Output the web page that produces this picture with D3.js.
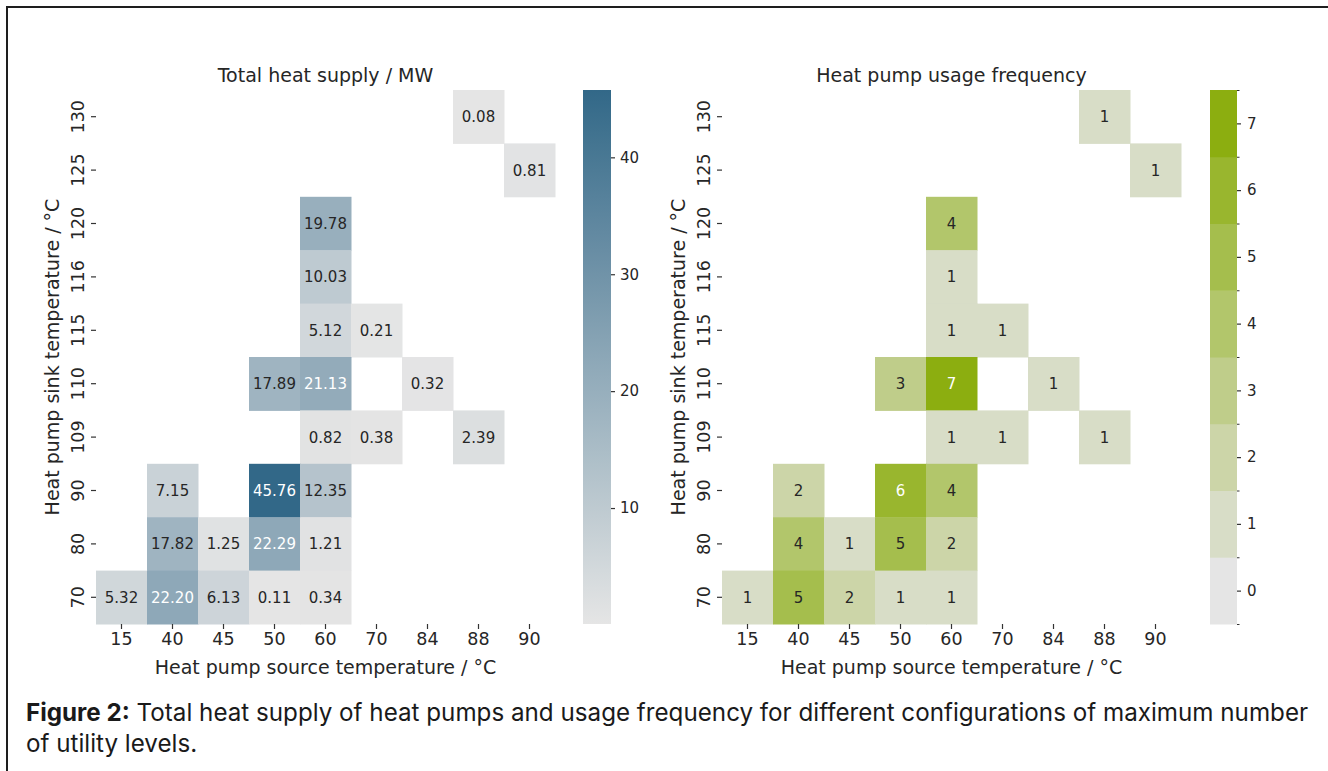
<!DOCTYPE html>
<html><head><meta charset="utf-8">
<script src="https://cdn.jsdelivr.net/npm/d3@7"></script>
<style>
body{margin:0;background:#fff}
svg{display:block}
</style></head><body>
<svg id="fig" width="1328" height="771"></svg>
<script>
// Axis categories
const sourceTemps = [15, 40, 45, 50, 60, 70, 84, 88, 90];
const sinkTemps = [130, 125, 120, 116, 115, 110, 109, 90, 80, 70];

// Total heat supply in MW; rows follow sinkTemps, columns follow sourceTemps (null = unused)
const heatSupply = [
  [null, null, null, null, null, null, null, 0.08, null],
  [null, null, null, null, null, null, null, null, 0.81],
  [null, null, null, null, 19.78, null, null, null, null],
  [null, null, null, null, 10.03, null, null, null, null],
  [null, null, null, null, 5.12, 0.21, null, null, null],
  [null, null, null, 17.89, 21.13, null, 0.32, null, null],
  [null, null, null, null, 0.82, 0.38, null, 2.39, null],
  [null, 7.15, null, 45.76, 12.35, null, null, null, null],
  [null, 17.82, 1.25, 22.29, 1.21, null, null, null, null],
  [5.32, 22.20, 6.13, 0.11, 0.34, null, null, null, null]
];

// Number of configurations using each heat pump
const usageCount = [
  [null, null, null, null, null, null, null, 1, null],
  [null, null, null, null, null, null, null, null, 1],
  [null, null, null, null, 4, null, null, null, null],
  [null, null, null, null, 1, null, null, null, null],
  [null, null, null, null, 1, 1, null, null, null],
  [null, null, null, 3, 7, null, 1, null, null],
  [null, null, null, null, 1, 1, null, 1, null],
  [null, 2, null, 6, 4, null, null, null, null],
  [null, 4, 1, 5, 2, null, null, null, null],
  [1, 5, 2, 1, 1, null, null, null, null]
];

const heatTicks = [10, 20, 30, 40];
const usageTicks = [0, 1, 2, 3, 4, 5, 6, 7];

const FONT = "'DejaVu Sans', sans-serif";
const INK = "#262626";
const svg = d3.select("#fig");

// frame around the figure
svg.append("path")
  .attr("d", "M7,771 L7,7 L1328,7")
  .attr("fill", "none").attr("stroke", "#1e1e1e").attr("stroke-width", 2);

function relLum(c) {
  const rgb = d3.rgb(c);
  const f = v => { v /= 255; return v <= 0.03928 ? v / 12.92 : Math.pow((v + 0.055) / 1.055, 2.4); };
  return 0.2126 * f(rgb.r) + 0.7152 * f(rgb.g) + 0.0722 * f(rgb.b);
}

const TOP = 90, BOTTOM = 624;

function heatmap(opts) {
  const g = svg.append("g");
  const x = d3.scaleBand().domain(sourceTemps).range([opts.x0, opts.x0 + 51 * sourceTemps.length]);
  const y = d3.scaleBand().domain(sinkTemps).range([TOP, BOTTOM]);

  const cells = [];
  opts.data.forEach((row, i) => row.forEach((v, j) => {
    if (v !== null) cells.push({ sink: sinkTemps[i], src: sourceTemps[j], v });
  }));

  g.selectAll("rect.cell").data(cells).join("rect")
    .attr("class", "cell")
    .attr("x", d => x(d.src)).attr("y", d => y(d.sink))
    .attr("width", x.bandwidth() + 0.5).attr("height", y.bandwidth() + 0.5)
    .attr("fill", d => opts.color(d.v));

  g.selectAll("text.annot").data(cells).join("text")
    .attr("class", "annot")
    .attr("x", d => x(d.src) + x.bandwidth() / 2)
    .attr("y", d => y(d.sink) + y.bandwidth() / 2)
    .attr("dy", "0.36em")
    .attr("text-anchor", "middle")
    .attr("font-family", FONT).attr("font-size", 15)
    .attr("fill", d => relLum(opts.color(d.v)) > 0.408 ? INK : "#ffffff")
    .text(d => opts.fmt(d.v));

  // x axis
  const xa = g.append("g").attr("transform", `translate(0,${BOTTOM})`)
    .call(d3.axisBottom(x).tickSize(5).tickPadding(4));
  xa.select(".domain").remove();
  xa.selectAll("line").attr("stroke", "#333").attr("stroke-width", 1.2);
  xa.selectAll("text").attr("font-family", FONT).attr("font-size", 17.5).attr("fill", INK);

  // y axis with vertical tick labels
  const ya = g.append("g").attr("transform", `translate(${opts.x0},0)`)
    .call(d3.axisLeft(y).tickSize(5).tickPadding(0));
  ya.select(".domain").remove();
  ya.selectAll("line").attr("stroke", "#333").attr("stroke-width", 1.2);
  ya.selectAll("text")
    .attr("font-family", FONT).attr("font-size", 17.5).attr("fill", INK)
    .attr("x", null).attr("dy", null)
    .attr("text-anchor", "middle")
    .attr("transform", "translate(-12,0) rotate(-90)");

  g.append("text")
    .attr("x", opts.x0 + 51 * sourceTemps.length / 2).attr("y", 82)
    .attr("text-anchor", "middle").attr("font-family", FONT).attr("font-size", 19).attr("fill", INK)
    .text(opts.title);

  g.append("text")
    .attr("x", opts.x0 + 51 * sourceTemps.length / 2).attr("y", 674)
    .attr("text-anchor", "middle").attr("font-family", FONT).attr("font-size", 19).attr("fill", INK)
    .text("Heat pump source temperature / °C");

  g.append("text")
    .attr("transform", `translate(${opts.x0 - 37},${(TOP + BOTTOM) / 2}) rotate(-90)`)
    .attr("text-anchor", "middle").attr("font-family", FONT).attr("font-size", 19).attr("fill", INK)
    .text("Heat pump sink temperature / °C");

  return g;
}

// Left: continuous grey-to-blue scale
const heatVals = heatSupply.flat().filter(v => v !== null);
const heatMin = d3.min(heatVals), heatMax = d3.max(heatVals);
const blue = d3.scaleLinear().domain([heatMin, heatMax]).range(["#e5e5e5", "#326888"]).interpolate(d3.interpolateRgb);

heatmap({ x0: 96, data: heatSupply, color: blue, fmt: d3.format(".2f"), title: "Total heat supply / MW" });

// continuous colour bar
{
  const cx = 583, cw = 28;
  const grad = svg.append("defs").append("linearGradient")
    .attr("id", "blueGrad").attr("x1", 0).attr("y1", 1).attr("x2", 0).attr("y2", 0);
  d3.range(0, 1.0001, 0.1).forEach(t => {
    grad.append("stop").attr("offset", t).attr("stop-color", blue(heatMin + t * (heatMax - heatMin)));
  });
  svg.append("rect").attr("x", cx).attr("y", TOP).attr("width", cw).attr("height", BOTTOM - TOP)
    .attr("fill", "url(#blueGrad)");
  const cy = d3.scaleLinear().domain([heatMin, heatMax]).range([BOTTOM, TOP]);
  const ax = svg.append("g").attr("transform", `translate(${cx + cw},0)`)
    .call(d3.axisRight(cy).tickValues(heatTicks).tickSize(4).tickPadding(5));
  ax.select(".domain").remove();
  ax.selectAll("line").attr("stroke", "#333").attr("stroke-width", 1.2);
  ax.selectAll("text").attr("font-family", FONT).attr("font-size", 15).attr("fill", INK);
}

// Right: discrete grey-to-green scale
const greenPalette = d3.quantize(d3.interpolateRgb("#e5e5e5", "#8cae10"), usageTicks.length);
const green = v => greenPalette[Math.round(v)];

heatmap({ x0: 722, data: usageCount, color: green, fmt: d3.format("d"), title: "Heat pump usage frequency" });

// discrete colour bar
{
  const cx = 1210, cw = 27;
  const cy = d3.scaleLinear().domain([-0.5, 7.5]).range([BOTTOM, TOP]);
  svg.append("g").selectAll("rect").data(usageTicks).join("rect")
    .attr("x", cx).attr("y", d => cy(d + 0.5)).attr("width", cw)
    .attr("height", d => cy(d - 0.5) - cy(d + 0.5) + 0.5)
    .attr("fill", d => greenPalette[d]);
  const ax = svg.append("g").attr("transform", `translate(${cx + cw},0)`)
    .call(d3.axisRight(cy).tickValues(usageTicks).tickSize(4).tickPadding(6));
  ax.select(".domain").remove();
  ax.selectAll("line").attr("stroke", "#333").attr("stroke-width", 1.2);
  ax.selectAll("text").attr("font-family", FONT).attr("font-size", 15).attr("fill", INK);
  const minor = svg.append("g").attr("transform", `translate(${cx + cw},0)`)
    .call(d3.axisRight(cy).tickValues(d3.range(-0.5, 8, 1)).tickSize(2.5).tickFormat(""));
  minor.select(".domain").remove();
  minor.selectAll("line").attr("stroke", "#333").attr("stroke-width", 1);
}

// caption
const cap = svg.append("text").attr("x", 26).attr("y", 721)
  .attr("font-family", "Inter, sans-serif").attr("font-size", 24.2).attr("fill", "#1a1a1a");
cap.append("tspan").attr("font-weight", 700).text("Figure 2:");
cap.append("tspan").text(" Total heat supply of heat pumps and usage frequency for different configurations of maximum number");
svg.append("text").attr("x", 26).attr("y", 752)
  .attr("font-family", "Inter, sans-serif").attr("font-size", 24.2).attr("fill", "#1a1a1a")
  .text("of utility levels.");
</script>
</body></html>
